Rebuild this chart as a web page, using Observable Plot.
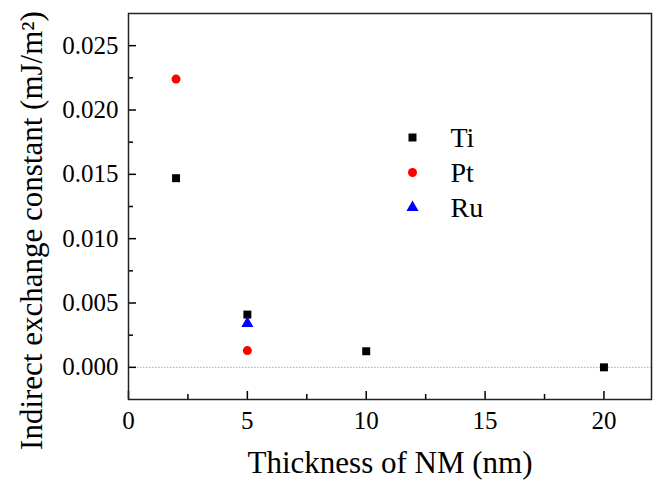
<!DOCTYPE html>
<html>
<head>
<meta charset="utf-8">
<script src="https://cdn.jsdelivr.net/npm/d3@7"></script>
<script src="https://cdn.jsdelivr.net/npm/@observablehq/plot@0.6"></script>
<style>
  html, body { margin: 0; padding: 0; background: white; }
</style>
</head>
<body>
<div id="chart"></div>
<script>
// ---- data ----
const seriesNames = ["Ti", "Pt", "Ru"];
const seriesColors = ["black", "red", "blue"];
const seriesSymbols = ["square", "circle", "triangle"];
const tiX = [2, 5, 10, 20];
const tiY = [0.0147, 0.0041, 0.00125, 0.0];
const ptX = [2, 5];
const ptY = [0.0224, 0.0013];
const ruX = [5];
const ruY = [0.0034];
const xTicks = [0, 5, 10, 15, 20];
const xMinorTicks = [2.5, 7.5, 12.5, 17.5];
const yTicks = [0, 0.005, 0.01, 0.015, 0.02, 0.025];
const yMinorTicks = [0.0025, 0.0075, 0.0125, 0.0175, 0.0225];
const xTitle = "Thickness of NM (nm)";
const yTitle = "Indirect exchange constant (mJ/m²)";

const seriesX = [tiX, ptX, ruX];
const seriesY = [tiY, ptY, ruY];
const points = [];
seriesNames.forEach((name, s) => {
  seriesX[s].forEach((x, i) => points.push({series: name, x, y: seriesY[s][i]}));
});

const FONT = "Liberation Serif";

const legendMarks = [];
seriesNames.forEach((name, i) => {
  legendMarks.push(Plot.dot([name], {
    frameAnchor: "top-left", dx: 284, dy: 124 + i * 35,
    symbol: () => seriesSymbols[i], fill: seriesColors[i], r: 4.5
  }));
  legendMarks.push(Plot.text([name], {
    frameAnchor: "top-left", dx: 322, dy: 125 + i * 35,
    text: d => d, textAnchor: "start", lineAnchor: "middle",
    fontSize: 28, fill: "black", fontFamily: FONT
  }));
});

const chart = Plot.plot({
  width: 654,
  height: 482,
  marginLeft: 128,
  marginTop: 13,
  marginRight: 3,
  marginBottom: 83,
  style: {fontFamily: FONT, background: "white", color: "black"},
  x: {domain: [0, 22]},
  y: {domain: [-0.0025, 0.0275]},
  symbol: {domain: seriesNames, range: seriesSymbols},
  color: {domain: seriesNames, range: seriesColors},
  marks: [
    Plot.ruleY([0], {stroke: "#aaa", strokeDasharray: "1.5,1.5", strokeWidth: 1}),
    Plot.axisX({ticks: xTicks, tickSize: -8, tickPadding: 20, fontSize: 25, fontFamily: FONT, strokeWidth: 1.5, tickFormat: d => String(d), label: null}),
    Plot.axisX({ticks: xMinorTicks, tickSize: -5, text: null, strokeWidth: 1.5, label: null}),
    Plot.axisY({ticks: yTicks, tickSize: -8, tickPadding: 18, fontSize: 25, fontFamily: FONT, strokeWidth: 1.5, tickFormat: d3.format(".3f"), label: null}),
    Plot.axisY({ticks: yMinorTicks, tickSize: -5, text: null, strokeWidth: 1.5, label: null}),
    Plot.frame({stroke: "#222", strokeWidth: 1.5}),
    Plot.dot(points, {x: "x", y: "y", symbol: "series", fill: "series", r: 4.5}),
    ...legendMarks,
    Plot.text([xTitle], {frameAnchor: "bottom", dy: 73, text: d => d, textAnchor: "middle", lineAnchor: "bottom", fontSize: 31, fill: "black", fontFamily: FONT}),
    Plot.text([yTitle], {frameAnchor: "left", dx: -87, dy: 24, rotate: -90, text: d => d, textAnchor: "middle", lineAnchor: "bottom", fontSize: 31, fill: "black", fontFamily: FONT})
  ]
});
document.getElementById("chart").appendChild(chart);
</script>
</body>
</html>
